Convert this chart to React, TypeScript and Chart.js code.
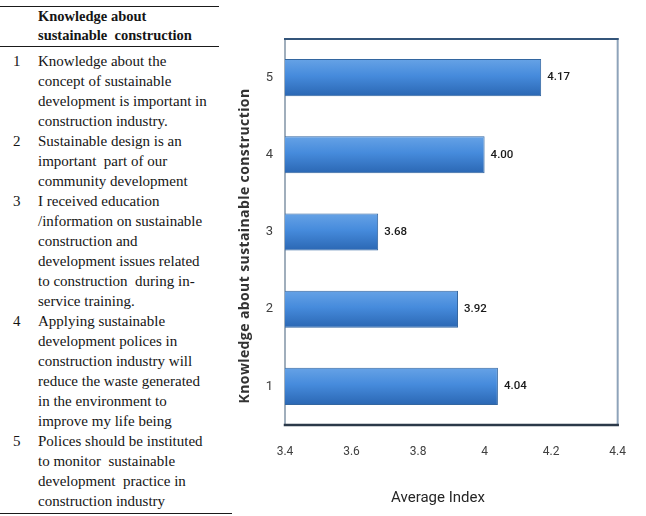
import React, { useEffect, useRef } from 'react';
import { Chart, registerables } from 'chart.js';

Chart.register(...registerables);

const categories = ['1', '2', '3', '4', '5'];
const averageIndex = [4.04, 3.92, 3.68, 4.0, 4.17];
const xTickLabels = ['3.4', '3.6', '3.8', '4', '4.2', '4.4'];
const xMin = 3.4;
const xMax = 4.4;
const xStep = 0.2;
const yAxisTitle = 'Knowledge about sustainable construction';
const xAxisTitle = 'Average Index';
const tableHeader = ['Knowledge about', 'sustainable  construction'];
const statements = [
  ['Knowledge about the', 'concept of sustainable', 'development is important in', 'construction industry.'],
  ['Sustainable design is an', 'important  part of our', 'community development'],
  [
    'I received education',
    '/information on sustainable',
    'construction and',
    'development issues related',
    'to construction  during in-',
    'service training.',
  ],
  [
    'Applying sustainable',
    'development polices in',
    'construction industry will',
    'reduce the waste generated',
    'in the environment to',
    'improve my life being',
  ],
  ['Polices should be instituted', 'to monitor  sustainable', 'development  practice in', 'construction industry'],
];

const SANS = 'Roboto, "Liberation Sans", sans-serif';
const TITLE_SANS = '"Open Sans", Roboto, sans-serif';

const framePlugin = {
  id: 'frame',
  beforeDatasetsDraw(chart: any) {
    const { ctx, chartArea: a } = chart;
    ctx.save();
    ctx.lineCap = 'square';
    ctx.strokeStyle = '#8193a6';
    ctx.lineWidth = 1.5;
    ctx.beginPath();
    ctx.moveTo(a.left, a.top);
    ctx.lineTo(a.left, a.bottom);
    ctx.stroke();
    ctx.strokeStyle = '#8ea3ba';
    ctx.lineWidth = 2;
    ctx.beginPath();
    ctx.moveTo(a.right, a.top);
    ctx.lineTo(a.right, a.bottom);
    ctx.stroke();
    ctx.strokeStyle = '#34557a';
    ctx.lineWidth = 2;
    ctx.beginPath();
    ctx.moveTo(a.left, a.top);
    ctx.lineTo(a.right, a.top);
    ctx.stroke();
    ctx.strokeStyle = '#2b3949';
    ctx.lineWidth = 2.5;
    ctx.beginPath();
    ctx.moveTo(a.left, a.bottom);
    ctx.lineTo(a.right, a.bottom);
    ctx.stroke();
    ctx.restore();
  },
};

const valueLabelPlugin = {
  id: 'valueLabels',
  afterDatasetsDraw(chart: any) {
    const { ctx } = chart;
    const meta = chart.getDatasetMeta(0);
    const data = chart.data.datasets[0].data as number[];
    ctx.save();
    ctx.font = `500 11.5px ${SANS}`;
    ctx.fillStyle = '#1a1a1a';
    ctx.textAlign = 'left';
    ctx.textBaseline = 'middle';
    meta.data.forEach((el: any, i: number) => {
      ctx.fillText(Number(data[i]).toFixed(2), el.x + 6, el.y);
    });
    ctx.restore();
  },
};

const axisTitlePlugin = {
  id: 'axisTitles',
  afterDraw(chart: any) {
    const { ctx, chartArea: a, width } = chart;
    ctx.save();
    ctx.fillStyle = '#262626';
    ctx.textAlign = 'center';
    ctx.textBaseline = 'middle';
    ctx.font = `15px ${SANS}`;
    ctx.fillText(xAxisTitle, width / 2, a.bottom + 73);
    ctx.translate(15, (a.top + a.bottom) / 2 + 14);
    ctx.rotate(-Math.PI / 2);
    ctx.fillStyle = '#333333';
    ctx.font = `bold 14px ${TITLE_SANS}`;
    try {
      (ctx as any).letterSpacing = '0.4px';
    } catch (e) {
      /* ignore */
    }
    ctx.fillText(yAxisTitle, 0, 0);
    ctx.restore();
  },
};

function BarChart() {
  const ref = useRef<HTMLCanvasElement | null>(null);
  useEffect(() => {
    if (!ref.current) return;
    const chart = new Chart(ref.current, {
      type: 'bar',
      data: {
        labels: categories,
        datasets: [
          {
            data: averageIndex,
            backgroundColor: (c: any) => {
              const ch = c.chart;
              if (!ch.chartArea || !ch.scales.y) return '#4a8ad4';
              const y = ch.scales.y.getPixelForValue(c.dataIndex);
              const g = ch.ctx.createLinearGradient(0, y - 19, 0, y + 19);
              g.addColorStop(0, '#67a3e6');
              g.addColorStop(0.45, '#468bdc');
              g.addColorStop(1, '#2a66b2');
              return g;
            },
            borderColor: '#3366a0',
            borderWidth: 1,
            barPercentage: 0.48,
            categoryPercentage: 1,
          },
        ],
      },
      options: {
        indexAxis: 'y',
        responsive: false,
        animation: false,
        layout: { padding: { top: 39, right: 9, bottom: 31, left: 0 } },
        plugins: {
          legend: { display: false },
          tooltip: { enabled: false },
        },
        scales: {
          x: {
            min: xMin,
            max: xMax,
            grid: { display: false, drawTicks: false },
            border: { display: false },
            ticks: {
              stepSize: xStep,
              padding: 20,
              color: '#404040',
              font: { family: SANS, size: 12 },
              callback: (_v: any, i: number) => xTickLabels[i],
            },
            afterFit: (s: any) => {
              s.height = 60;
            },
          },
          y: {
            reverse: true,
            grid: { display: false, drawTicks: false },
            border: { display: false },
            ticks: {
              padding: 12,
              color: '#404040',
              font: { family: SANS, size: 13 },
            },
            afterFit: (s: any) => {
              s.width = 55;
            },
          },
        },
      },
      plugins: [framePlugin, valueLabelPlugin, axisTitlePlugin],
    } as any);
    return () => chart.destroy();
  }, []);
  return <canvas ref={ref} width={416} height={516} style={{ display: 'block' }} />;
}

function StatementTable() {
  const rule = '1.5px solid #1a1a1a';
  return (
    <div
      style={{
        position: 'absolute',
        left: 0,
        top: 6,
        width: 219,
        fontFamily: '"Liberation Serif", "Times New Roman", serif',
        fontSize: 15,
        lineHeight: '20px',
        color: '#151515',
        whiteSpace: 'pre',
      }}
    >
      <div
        style={{
          borderTop: rule,
          borderBottom: rule,
          paddingLeft: 38,
          paddingBottom: 1,
          fontWeight: 'bold',
          fontSize: 14.5,
          lineHeight: '19px',
        }}
      >
        {tableHeader.map((t, i) => (
          <div key={i}>{t}</div>
        ))}
      </div>
      <div style={{ paddingTop: 4, paddingBottom: 2, borderBottom: rule, width: 232 }}>
        {statements.map((lines, i) => (
          <div key={i} style={{ display: 'flex' }}>
            <div style={{ width: 38, paddingLeft: 13, boxSizing: 'border-box', flex: 'none' }}>{categories[i]}</div>
            <div>
              {lines.map((l, j) => (
                <div key={j}>{l}</div>
              ))}
            </div>
          </div>
        ))}
      </div>
    </div>
  );
}

export default function App() {
  return (
    <div
      style={{
        position: 'absolute',
        left: 0,
        top: 0,
        width: 646,
        height: 516,
        background: '#fff',
        overflow: 'hidden',
      }}
    >
      <StatementTable />
      <div style={{ position: 'absolute', left: 230, top: 0, width: 416, height: 516 }}>
        <BarChart />
      </div>
    </div>
  );
}
